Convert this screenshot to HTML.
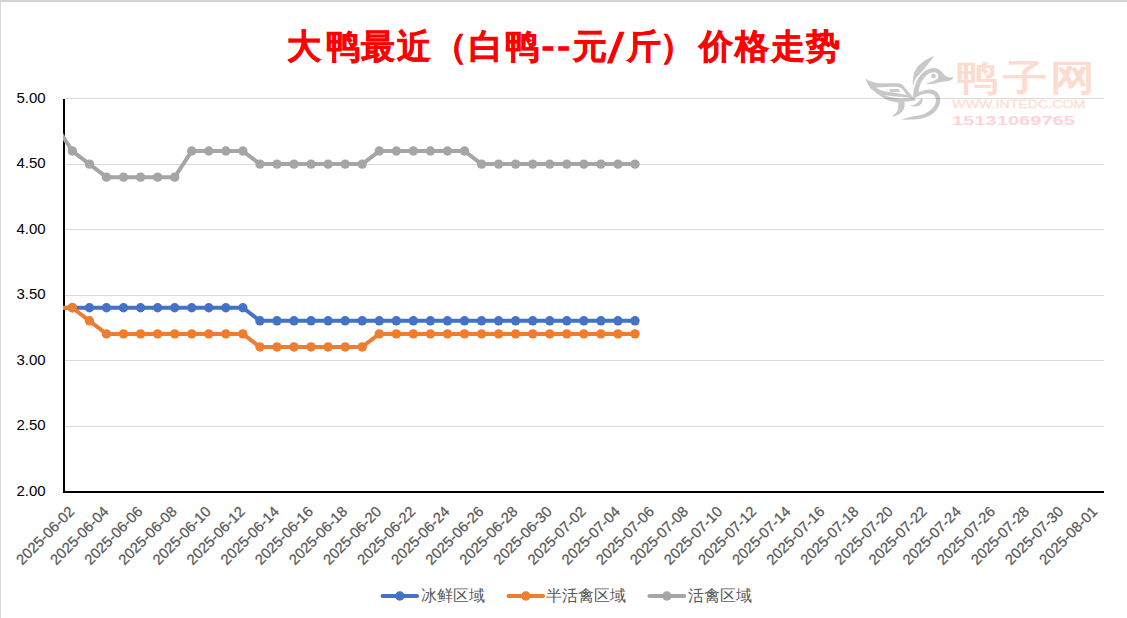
<!DOCTYPE html>
<html><head><meta charset="utf-8"><title>chart</title>
<style>
html,body{margin:0;padding:0;background:#fff;width:1127px;height:618px;overflow:hidden}
svg{display:block}
text{font-family:"Liberation Sans",sans-serif}
.yl{font-size:15px;fill:#000}
.xl{font-size:14.7px;fill:#595959;stroke:#595959;stroke-width:0.25px}
.tt{font-size:34px;font-weight:bold;fill:#ff0000;stroke:#ff0000;stroke-width:0.6px}
.lg{font-size:15.5px;fill:#595959}
</style></head><body>
<svg width="1127" height="618" viewBox="0 0 1127 618">
<defs><clipPath id="pc"><rect x="63" y="0" width="1041" height="618"/></clipPath></defs>
<rect x="0" y="0" width="1127" height="2" fill="#d4d4d4"/>
<rect x="0" y="0" width="1" height="618" fill="#d9d9d9"/>
<rect x="64" y="98" width="1040" height="1" fill="#d9d9d9"/>
<rect x="64" y="164" width="1040" height="1" fill="#d9d9d9"/>
<rect x="64" y="229" width="1040" height="1" fill="#d9d9d9"/>
<rect x="64" y="295" width="1040" height="1" fill="#d9d9d9"/>
<rect x="64" y="360" width="1040" height="1" fill="#d9d9d9"/>
<rect x="64" y="426" width="1040" height="1" fill="#d9d9d9"/>
<g fill="#000" opacity="0.21">
<path d="M934,56 C927,58.5 920,63 916,69 C913,74 912.5,80 912.8,86.2 C914,81 916,77.5 918.7,75 C921,72.5 923,70.5 924.5,68.5 C927,65 931,61 934,56 Z"/>
<path d="M913,97 C913.5,88 916,80 921,74.5 C925,70 930,68 934,68 C938.5,68 941.5,71 944,74.5 C946.5,77.5 950,77.8 953.4,77 C952.5,79.8 950.5,81 947,81.2 C943,81.5 939,82 935.5,83.2 C932,84.2 928.5,84.3 925.5,83.8 C930,82.5 935,81 937.8,78.5 C939.5,76 937.5,72.2 934.5,72.2 C929.5,72.2 925.5,75.5 922.5,80 C920,84 918.5,89 918.3,95 Z"/>
<circle cx="933.5" cy="76" r="2.3"/>
<path d="M913,95.5 C918,92 924,89.5 930,89.5 C936,89.5 940.5,94 940.3,100.5 C940,107 935,113 929,116 C924,118.5 918,119.5 912,119.6 L900.8,119.8 C906,118 912,116.5 918.6,115.6 C926,114 932,110 934.8,105 C937,100 936,95.5 932,94 C927,92.5 920,94.5 913.8,98.5 Z"/>
<path fill-rule="evenodd" d="M865.5,78.6 C870,81.5 874,83 879.7,83.3 C885,83.5 892,83.3 897.4,83.3 C900,83.5 901.5,84 902.5,85 L915.8,100.3 C912,101 909,101.5 907.3,101.6 C902,102.2 899,102.3 896.8,102.3 C892,101.8 888.5,100.5 886.3,99.3 C881,96.5 878.2,94.4 878.2,94.4 C874,91 870.1,88 870.1,88 C867.5,84 865.5,78.6 865.5,78.6 Z M876.2,87.4 C884,87 893,86.6 897.4,86.8 C900,87 902,88.5 903.5,90.5 L906.9,95.2 C900,93.5 893,92.5 885.6,91.5 C881,90.5 878,89 876.2,87.4 Z M884,95 C891,96.3 900,96.8 912,98 C905,99.2 893,98.8 884,95 Z"/><path d="M889,89.3 L898.5,89 L900,91.8 L890.5,92 Z"/>
<path d="M897.4,99.5 L904.5,101.6 C904.8,104 904.5,106.5 903.9,108.7 C902,113 897,116 891.5,117 C895,114 897,112 897.6,110 C898.8,107 898.8,104.5 897.4,99.5 Z"/>
<path d="M909.7,105.3 C914,105.5 918,103.5 920,100 L921.9,97.7 C923,100 922.5,103 920,105 C917,107 913,107 909.7,105.3 Z"/>
</g>
<text transform="translate(956,59.5) scale(1.12,0.96)" x="0" y="31.6" style="font-family:'Liberation Serif',serif;font-size:37px;fill:#fcdccf;stroke:#fcdccf;stroke-width:1.1px">鸭</text><text transform="translate(1002.5,59.5) scale(1.18,0.96)" x="0" y="31.6" style="font-family:'Liberation Serif',serif;font-size:37px;fill:#fcdccf;stroke:#fcdccf;stroke-width:1.1px">子</text><text transform="translate(1049.5,59.5) scale(1.2,0.96)" x="0" y="31.6" style="font-family:'Liberation Serif',serif;font-size:37px;fill:#fcdccf;stroke:#fcdccf;stroke-width:1.1px">网</text>
<text x="952.3" y="108.2" textLength="133" lengthAdjust="spacingAndGlyphs" style="font-family:'Liberation Sans',sans-serif;font-size:11px;fill:#fde0d4;stroke:#fde0d4;stroke-width:0.3px">WWW.INTEDC.COM</text>
<text x="952" y="124.7" textLength="123" lengthAdjust="spacingAndGlyphs" style="font-family:'Liberation Sans',sans-serif;font-size:12px;font-weight:bold;fill:#fbd3d9">15131069765</text>

<text x="45.6" y="102.7" text-anchor="end" class="yl">5.00</text>
<text x="45.6" y="168.2" text-anchor="end" class="yl">4.50</text>
<text x="45.6" y="233.7" text-anchor="end" class="yl">4.00</text>
<text x="45.6" y="299.2" text-anchor="end" class="yl">3.50</text>
<text x="45.6" y="364.7" text-anchor="end" class="yl">3.00</text>
<text x="45.6" y="430.2" text-anchor="end" class="yl">2.50</text>
<text x="45.6" y="495.7" text-anchor="end" class="yl">2.00</text>
<rect x="63" y="99" width="2" height="394" fill="#000"/>
<rect x="64" y="491" width="1040" height="2" fill="#000"/>
<path d="M55.33,307.76 L72.37,307.76 L89.42,307.76 L106.47,307.76 L123.52,307.76 L140.57,307.76 L157.62,307.76 L174.67,307.76 L191.72,307.76 L208.77,307.76 L225.82,307.76 L242.87,307.76 L259.92,320.82 L276.96,320.82 L294.01,320.82 L311.06,320.82 L328.11,320.82 L345.16,320.82 L362.21,320.82 L379.26,320.82 L396.31,320.82 L413.36,320.82 L430.41,320.82 L447.46,320.82 L464.51,320.82 L481.55,320.82 L498.60,320.82 L515.65,320.82 L532.70,320.82 L549.75,320.82 L566.80,320.82 L583.85,320.82 L600.90,320.82 L617.95,320.82 L635.00,320.82" fill="none" stroke="#4472c4" stroke-width="4" stroke-linejoin="round" stroke-linecap="round" clip-path="url(#pc)"/><circle cx="72.37" cy="307.76" r="4.7" fill="#4472c4"/><circle cx="89.42" cy="307.76" r="4.7" fill="#4472c4"/><circle cx="106.47" cy="307.76" r="4.7" fill="#4472c4"/><circle cx="123.52" cy="307.76" r="4.7" fill="#4472c4"/><circle cx="140.57" cy="307.76" r="4.7" fill="#4472c4"/><circle cx="157.62" cy="307.76" r="4.7" fill="#4472c4"/><circle cx="174.67" cy="307.76" r="4.7" fill="#4472c4"/><circle cx="191.72" cy="307.76" r="4.7" fill="#4472c4"/><circle cx="208.77" cy="307.76" r="4.7" fill="#4472c4"/><circle cx="225.82" cy="307.76" r="4.7" fill="#4472c4"/><circle cx="242.87" cy="307.76" r="4.7" fill="#4472c4"/><circle cx="259.92" cy="320.82" r="4.7" fill="#4472c4"/><circle cx="276.96" cy="320.82" r="4.7" fill="#4472c4"/><circle cx="294.01" cy="320.82" r="4.7" fill="#4472c4"/><circle cx="311.06" cy="320.82" r="4.7" fill="#4472c4"/><circle cx="328.11" cy="320.82" r="4.7" fill="#4472c4"/><circle cx="345.16" cy="320.82" r="4.7" fill="#4472c4"/><circle cx="362.21" cy="320.82" r="4.7" fill="#4472c4"/><circle cx="379.26" cy="320.82" r="4.7" fill="#4472c4"/><circle cx="396.31" cy="320.82" r="4.7" fill="#4472c4"/><circle cx="413.36" cy="320.82" r="4.7" fill="#4472c4"/><circle cx="430.41" cy="320.82" r="4.7" fill="#4472c4"/><circle cx="447.46" cy="320.82" r="4.7" fill="#4472c4"/><circle cx="464.51" cy="320.82" r="4.7" fill="#4472c4"/><circle cx="481.55" cy="320.82" r="4.7" fill="#4472c4"/><circle cx="498.60" cy="320.82" r="4.7" fill="#4472c4"/><circle cx="515.65" cy="320.82" r="4.7" fill="#4472c4"/><circle cx="532.70" cy="320.82" r="4.7" fill="#4472c4"/><circle cx="549.75" cy="320.82" r="4.7" fill="#4472c4"/><circle cx="566.80" cy="320.82" r="4.7" fill="#4472c4"/><circle cx="583.85" cy="320.82" r="4.7" fill="#4472c4"/><circle cx="600.90" cy="320.82" r="4.7" fill="#4472c4"/><circle cx="617.95" cy="320.82" r="4.7" fill="#4472c4"/><circle cx="635.00" cy="320.82" r="4.7" fill="#4472c4"/>
<path d="M55.33,307.76 L72.37,307.76 L89.42,320.82 L106.47,333.88 L123.52,333.88 L140.57,333.88 L157.62,333.88 L174.67,333.88 L191.72,333.88 L208.77,333.88 L225.82,333.88 L242.87,333.88 L259.92,346.94 L276.96,346.94 L294.01,346.94 L311.06,346.94 L328.11,346.94 L345.16,346.94 L362.21,346.94 L379.26,333.88 L396.31,333.88 L413.36,333.88 L430.41,333.88 L447.46,333.88 L464.51,333.88 L481.55,333.88 L498.60,333.88 L515.65,333.88 L532.70,333.88 L549.75,333.88 L566.80,333.88 L583.85,333.88 L600.90,333.88 L617.95,333.88 L635.00,333.88" fill="none" stroke="#ed7d31" stroke-width="4" stroke-linejoin="round" stroke-linecap="round" clip-path="url(#pc)"/><circle cx="72.37" cy="307.76" r="4.7" fill="#ed7d31"/><circle cx="89.42" cy="320.82" r="4.7" fill="#ed7d31"/><circle cx="106.47" cy="333.88" r="4.7" fill="#ed7d31"/><circle cx="123.52" cy="333.88" r="4.7" fill="#ed7d31"/><circle cx="140.57" cy="333.88" r="4.7" fill="#ed7d31"/><circle cx="157.62" cy="333.88" r="4.7" fill="#ed7d31"/><circle cx="174.67" cy="333.88" r="4.7" fill="#ed7d31"/><circle cx="191.72" cy="333.88" r="4.7" fill="#ed7d31"/><circle cx="208.77" cy="333.88" r="4.7" fill="#ed7d31"/><circle cx="225.82" cy="333.88" r="4.7" fill="#ed7d31"/><circle cx="242.87" cy="333.88" r="4.7" fill="#ed7d31"/><circle cx="259.92" cy="346.94" r="4.7" fill="#ed7d31"/><circle cx="276.96" cy="346.94" r="4.7" fill="#ed7d31"/><circle cx="294.01" cy="346.94" r="4.7" fill="#ed7d31"/><circle cx="311.06" cy="346.94" r="4.7" fill="#ed7d31"/><circle cx="328.11" cy="346.94" r="4.7" fill="#ed7d31"/><circle cx="345.16" cy="346.94" r="4.7" fill="#ed7d31"/><circle cx="362.21" cy="346.94" r="4.7" fill="#ed7d31"/><circle cx="379.26" cy="333.88" r="4.7" fill="#ed7d31"/><circle cx="396.31" cy="333.88" r="4.7" fill="#ed7d31"/><circle cx="413.36" cy="333.88" r="4.7" fill="#ed7d31"/><circle cx="430.41" cy="333.88" r="4.7" fill="#ed7d31"/><circle cx="447.46" cy="333.88" r="4.7" fill="#ed7d31"/><circle cx="464.51" cy="333.88" r="4.7" fill="#ed7d31"/><circle cx="481.55" cy="333.88" r="4.7" fill="#ed7d31"/><circle cx="498.60" cy="333.88" r="4.7" fill="#ed7d31"/><circle cx="515.65" cy="333.88" r="4.7" fill="#ed7d31"/><circle cx="532.70" cy="333.88" r="4.7" fill="#ed7d31"/><circle cx="549.75" cy="333.88" r="4.7" fill="#ed7d31"/><circle cx="566.80" cy="333.88" r="4.7" fill="#ed7d31"/><circle cx="583.85" cy="333.88" r="4.7" fill="#ed7d31"/><circle cx="600.90" cy="333.88" r="4.7" fill="#ed7d31"/><circle cx="617.95" cy="333.88" r="4.7" fill="#ed7d31"/><circle cx="635.00" cy="333.88" r="4.7" fill="#ed7d31"/>
<path d="M55.33,124.92 L72.37,151.04 L89.42,164.10 L106.47,177.16 L123.52,177.16 L140.57,177.16 L157.62,177.16 L174.67,177.16 L191.72,151.04 L208.77,151.04 L225.82,151.04 L242.87,151.04 L259.92,164.10 L276.96,164.10 L294.01,164.10 L311.06,164.10 L328.11,164.10 L345.16,164.10 L362.21,164.10 L379.26,151.04 L396.31,151.04 L413.36,151.04 L430.41,151.04 L447.46,151.04 L464.51,151.04 L481.55,164.10 L498.60,164.10 L515.65,164.10 L532.70,164.10 L549.75,164.10 L566.80,164.10 L583.85,164.10 L600.90,164.10 L617.95,164.10 L635.00,164.10" fill="none" stroke="#a5a5a5" stroke-width="4" stroke-linejoin="round" stroke-linecap="round" clip-path="url(#pc)"/><circle cx="72.37" cy="151.04" r="4.7" fill="#a5a5a5"/><circle cx="89.42" cy="164.10" r="4.7" fill="#a5a5a5"/><circle cx="106.47" cy="177.16" r="4.7" fill="#a5a5a5"/><circle cx="123.52" cy="177.16" r="4.7" fill="#a5a5a5"/><circle cx="140.57" cy="177.16" r="4.7" fill="#a5a5a5"/><circle cx="157.62" cy="177.16" r="4.7" fill="#a5a5a5"/><circle cx="174.67" cy="177.16" r="4.7" fill="#a5a5a5"/><circle cx="191.72" cy="151.04" r="4.7" fill="#a5a5a5"/><circle cx="208.77" cy="151.04" r="4.7" fill="#a5a5a5"/><circle cx="225.82" cy="151.04" r="4.7" fill="#a5a5a5"/><circle cx="242.87" cy="151.04" r="4.7" fill="#a5a5a5"/><circle cx="259.92" cy="164.10" r="4.7" fill="#a5a5a5"/><circle cx="276.96" cy="164.10" r="4.7" fill="#a5a5a5"/><circle cx="294.01" cy="164.10" r="4.7" fill="#a5a5a5"/><circle cx="311.06" cy="164.10" r="4.7" fill="#a5a5a5"/><circle cx="328.11" cy="164.10" r="4.7" fill="#a5a5a5"/><circle cx="345.16" cy="164.10" r="4.7" fill="#a5a5a5"/><circle cx="362.21" cy="164.10" r="4.7" fill="#a5a5a5"/><circle cx="379.26" cy="151.04" r="4.7" fill="#a5a5a5"/><circle cx="396.31" cy="151.04" r="4.7" fill="#a5a5a5"/><circle cx="413.36" cy="151.04" r="4.7" fill="#a5a5a5"/><circle cx="430.41" cy="151.04" r="4.7" fill="#a5a5a5"/><circle cx="447.46" cy="151.04" r="4.7" fill="#a5a5a5"/><circle cx="464.51" cy="151.04" r="4.7" fill="#a5a5a5"/><circle cx="481.55" cy="164.10" r="4.7" fill="#a5a5a5"/><circle cx="498.60" cy="164.10" r="4.7" fill="#a5a5a5"/><circle cx="515.65" cy="164.10" r="4.7" fill="#a5a5a5"/><circle cx="532.70" cy="164.10" r="4.7" fill="#a5a5a5"/><circle cx="549.75" cy="164.10" r="4.7" fill="#a5a5a5"/><circle cx="566.80" cy="164.10" r="4.7" fill="#a5a5a5"/><circle cx="583.85" cy="164.10" r="4.7" fill="#a5a5a5"/><circle cx="600.90" cy="164.10" r="4.7" fill="#a5a5a5"/><circle cx="617.95" cy="164.10" r="4.7" fill="#a5a5a5"/><circle cx="635.00" cy="164.10" r="4.7" fill="#a5a5a5"/>
<text transform="translate(75.37,512.5) rotate(-45)" text-anchor="end" class="xl">2025-06-02</text>
<text transform="translate(109.47,512.5) rotate(-45)" text-anchor="end" class="xl">2025-06-04</text>
<text transform="translate(143.57,512.5) rotate(-45)" text-anchor="end" class="xl">2025-06-06</text>
<text transform="translate(177.67,512.5) rotate(-45)" text-anchor="end" class="xl">2025-06-08</text>
<text transform="translate(211.77,512.5) rotate(-45)" text-anchor="end" class="xl">2025-06-10</text>
<text transform="translate(245.87,512.5) rotate(-45)" text-anchor="end" class="xl">2025-06-12</text>
<text transform="translate(279.96,512.5) rotate(-45)" text-anchor="end" class="xl">2025-06-14</text>
<text transform="translate(314.06,512.5) rotate(-45)" text-anchor="end" class="xl">2025-06-16</text>
<text transform="translate(348.16,512.5) rotate(-45)" text-anchor="end" class="xl">2025-06-18</text>
<text transform="translate(382.26,512.5) rotate(-45)" text-anchor="end" class="xl">2025-06-20</text>
<text transform="translate(416.36,512.5) rotate(-45)" text-anchor="end" class="xl">2025-06-22</text>
<text transform="translate(450.46,512.5) rotate(-45)" text-anchor="end" class="xl">2025-06-24</text>
<text transform="translate(484.55,512.5) rotate(-45)" text-anchor="end" class="xl">2025-06-26</text>
<text transform="translate(518.65,512.5) rotate(-45)" text-anchor="end" class="xl">2025-06-28</text>
<text transform="translate(552.75,512.5) rotate(-45)" text-anchor="end" class="xl">2025-06-30</text>
<text transform="translate(586.85,512.5) rotate(-45)" text-anchor="end" class="xl">2025-07-02</text>
<text transform="translate(620.95,512.5) rotate(-45)" text-anchor="end" class="xl">2025-07-04</text>
<text transform="translate(655.05,512.5) rotate(-45)" text-anchor="end" class="xl">2025-07-06</text>
<text transform="translate(689.15,512.5) rotate(-45)" text-anchor="end" class="xl">2025-07-08</text>
<text transform="translate(723.24,512.5) rotate(-45)" text-anchor="end" class="xl">2025-07-10</text>
<text transform="translate(757.34,512.5) rotate(-45)" text-anchor="end" class="xl">2025-07-12</text>
<text transform="translate(791.44,512.5) rotate(-45)" text-anchor="end" class="xl">2025-07-14</text>
<text transform="translate(825.54,512.5) rotate(-45)" text-anchor="end" class="xl">2025-07-16</text>
<text transform="translate(859.64,512.5) rotate(-45)" text-anchor="end" class="xl">2025-07-18</text>
<text transform="translate(893.74,512.5) rotate(-45)" text-anchor="end" class="xl">2025-07-20</text>
<text transform="translate(927.83,512.5) rotate(-45)" text-anchor="end" class="xl">2025-07-22</text>
<text transform="translate(961.93,512.5) rotate(-45)" text-anchor="end" class="xl">2025-07-24</text>
<text transform="translate(996.03,512.5) rotate(-45)" text-anchor="end" class="xl">2025-07-26</text>
<text transform="translate(1030.13,512.5) rotate(-45)" text-anchor="end" class="xl">2025-07-28</text>
<text transform="translate(1064.23,512.5) rotate(-45)" text-anchor="end" class="xl">2025-07-30</text>
<text transform="translate(1098.33,512.5) rotate(-45)" text-anchor="end" class="xl">2025-08-01</text>
<text x="287.4" y="58.3" class="tt">大</text>
<text x="325.7" y="58.3" class="tt">鸭</text>
<text x="361.1" y="58.3" class="tt">最</text>
<text x="397.4" y="58.3" class="tt">近</text>
<text x="433.1" y="58.3" class="tt">（</text>
<text x="469.2" y="58.3" class="tt">白</text>
<text x="505.2" y="58.3" class="tt">鸭</text>
<text x="572.7" y="58.3" class="tt">元</text>
<text x="626.7" y="58.3" class="tt">斤</text>
<text x="660.0" y="58.3" class="tt">）</text>
<text x="698.7" y="58.3" class="tt">价</text>
<text x="735.1" y="58.3" class="tt">格</text>
<text x="770.5" y="58.3" class="tt">走</text>
<text x="806.0" y="58.3" class="tt">势</text>
<rect x="542.5" y="46.2" width="10.7" height="4.6" fill="#f00"/>
<rect x="558.2" y="46.2" width="10.7" height="4.6" fill="#f00"/>
<polygon points="606.9,63.6 612.2,63.6 624.6,31.7 619.3,31.7" fill="#f00"/>
<line x1="382.6" y1="596" x2="417" y2="596" stroke="#4472c4" stroke-width="4.2" stroke-linecap="round"/><circle cx="399.8" cy="596" r="4.7" fill="#4472c4"/><text x="421" y="600.8" class="lg">冰鲜区域</text>
<line x1="508.6" y1="596" x2="543" y2="596" stroke="#ed7d31" stroke-width="4.2" stroke-linecap="round"/><circle cx="525.8" cy="596" r="4.7" fill="#ed7d31"/><text x="546" y="600.8" class="lg">半活禽区域</text>
<line x1="649.5" y1="596" x2="684.2" y2="596" stroke="#a5a5a5" stroke-width="4.2" stroke-linecap="round"/><circle cx="666.85" cy="596" r="4.7" fill="#a5a5a5"/><text x="688" y="600.8" class="lg">活禽区域</text>
</svg>
</body></html>
